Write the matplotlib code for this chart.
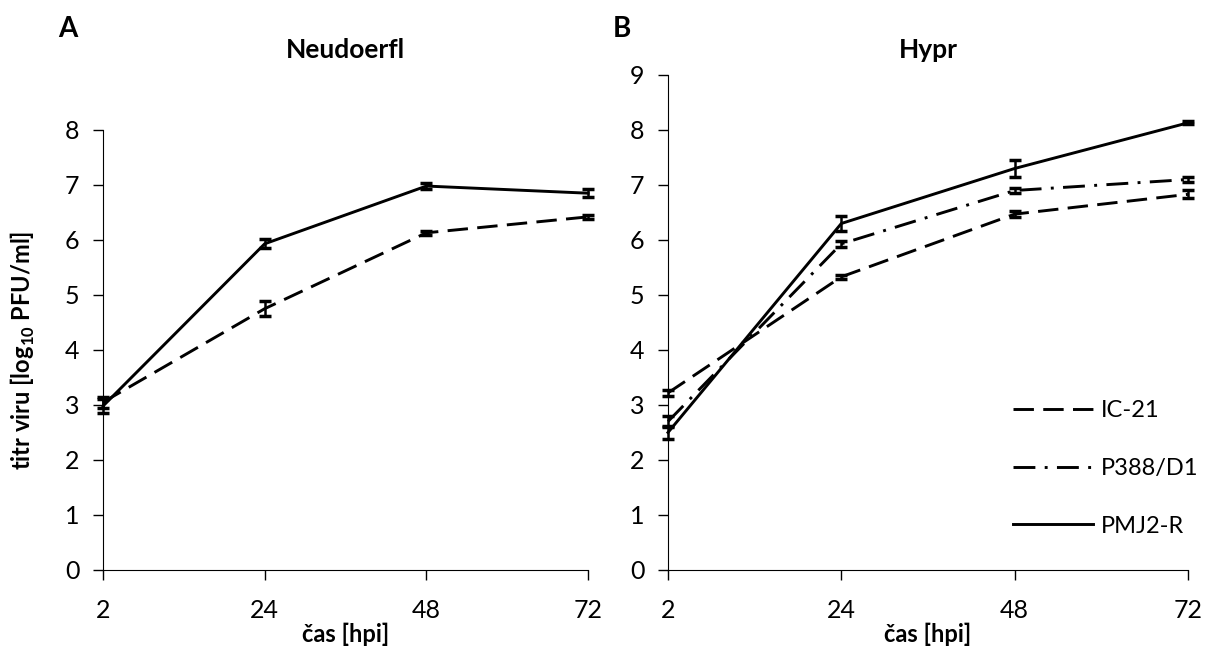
import matplotlib.pyplot as plt
import numpy as np

plt.rcParams['font.family'] = ['Lato', 'DejaVu Sans']
plt.rcParams['mathtext.fontset'] = 'custom'
plt.rcParams['mathtext.rm'] = 'Lato'
plt.rcParams['mathtext.bf'] = 'Lato:bold'

TICK_SIZE = 18
LABEL_SIZE = 17

# data
time_labels = ['2', '24', '48', '72']

neu_ic21 = [3.05, 4.75, 6.13, 6.42]
neu_ic21_err = [0.10, 0.14, 0.04, 0.04]
neu_pmj2 = [2.98, 5.93, 6.98, 6.85]
neu_pmj2_err = [0.13, 0.08, 0.05, 0.07]

hypr_ic21 = [3.22, 5.33, 6.47, 6.83]
hypr_ic21_err = [0.06, 0.04, 0.05, 0.07]
hypr_p388 = [2.70, 5.93, 6.90, 7.10]
hypr_p388_err = [0.10, 0.05, 0.05, 0.05]
hypr_pmj2 = [2.50, 6.30, 7.30, 8.13]
hypr_pmj2_err = [0.12, 0.13, 0.15, 0.03]

styles = {
    'IC-21': (0, (7, 3.2)),
    'P388/D1': (0, (7.5, 3.2, 1, 3.2)),
    'PMJ2-R': 'solid',
}

fig = plt.figure(figsize=(12.06, 6.55), dpi=100)
ax1 = fig.add_axes([0.0854, 0.1298, 0.4022, 0.6718])
ax2 = fig.add_axes([0.5539, 0.1298, 0.4311, 0.7557])

x = np.arange(len(time_labels))


def draw(ax, y, err, name):
    line, caps, bars = ax.errorbar(x, y, yerr=err, color='black', linewidth=2.1,
                                   linestyle=styles[name], elinewidth=1.8,
                                   capsize=4, capthick=2.5, label=name)
    line.set_clip_on(False)
    for c in caps:
        c.set_clip_on(False)
    for b in bars:
        b.set_clip_on(False)


draw(ax1, neu_ic21, neu_ic21_err, 'IC-21')
draw(ax1, neu_pmj2, neu_pmj2_err, 'PMJ2-R')

draw(ax2, hypr_ic21, hypr_ic21_err, 'IC-21')
draw(ax2, hypr_p388, hypr_p388_err, 'P388/D1')
draw(ax2, hypr_pmj2, hypr_pmj2_err, 'PMJ2-R')

for ax, ymax in [(ax1, 8), (ax2, 9)]:
    ax.set_xlim(0, 3)
    ax.set_ylim(0, ymax)
    ax.set_yticks(range(0, ymax + 1))
    ax.set_xticks(x)
    ax.set_xticklabels(time_labels)
    ax.spines['top'].set_visible(False)
    ax.spines['right'].set_visible(False)
    ax.tick_params(axis='both', labelsize=TICK_SIZE, length=7, width=1,
                   direction='out')
    ax.tick_params(axis='x', pad=14)
    ax.tick_params(axis='y', pad=10)
    ax.set_xlabel('čas [hpi]', fontsize=LABEL_SIZE, fontweight='bold', labelpad=0)

ax1.set_ylabel(r'titr viru [log$_\mathbf{10}$ PFU/ml]', fontsize=LABEL_SIZE,
               fontweight='bold', labelpad=20)

ax1.set_title('Neudoerfl', fontsize=19, fontweight='bold', pad=52)
ax2.set_title('Hypr', fontsize=19, fontweight='bold', pad=12)

fig.text(0.056, 0.955, 'A', fontsize=20, fontweight='bold', ha='center', va='center')
fig.text(0.516, 0.955, 'B', fontsize=20, fontweight='bold', ha='center', va='center')

handles, labels = ax2.get_legend_handles_labels()
handles = [h[0] for h in handles]
ax2.legend(handles, labels, loc='center left', bbox_to_anchor=(0.645, 0.205),
           frameon=False, fontsize=17, handlelength=3.4, labelspacing=1.55,
           handletextpad=0.35, borderaxespad=0)

plt.savefig('out.png', dpi=100)
